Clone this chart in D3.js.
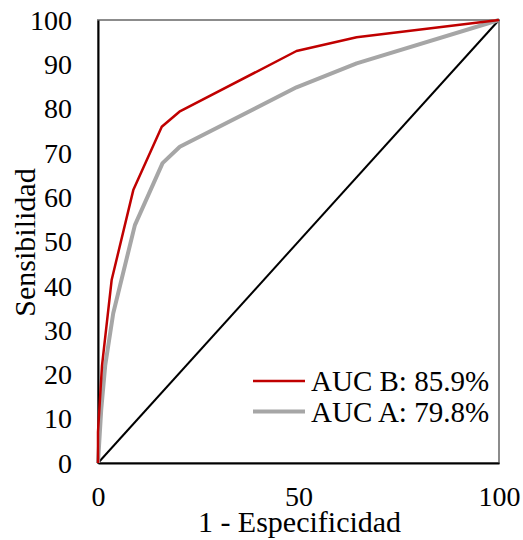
<!DOCTYPE html>
<meta charset="utf-8">
<script src="https://d3js.org/d3.v7.min.js"></script>
<style>
  body { margin: 0; background: #fff; }
</style>
<div id="chart"></div>
<script>
// ROC points (x = 1 - specificity, y = sensitivity)
var aucBx = [0, 0, 1, 3.4, 8.8, 15.9, 20.3, 49.5, 64.5, 100];
var aucBy = [0, 7, 22, 41.3, 61.6, 75.9, 79.3, 93, 96.1, 100];
var aucAx = [0, 0.8, 1.8, 3.8, 9.2, 16.1, 20.4, 49.5, 64.5, 100];
var aucAy = [0, 12, 22, 33.8, 53.7, 67.7, 71.4, 84.8, 90.2, 100];
var refX = [0, 100];
var refY = [0, 100];
var xTicks = [0, 50, 100];
var yTicks = [0, 10, 20, 30, 40, 50, 60, 70, 80, 90, 100];
var legendLabels = ["AUC B: 85.9%", "AUC A: 79.8%"];

var serif = "'Liberation Serif', 'Times New Roman', Times, 'DejaVu Serif', serif";

var margin = {top: 20, right: 24, bottom: 77, left: 98},
    width = 523 - margin.left - margin.right,
    height = 540 - margin.top - margin.bottom;

var svg = d3.select("#chart")
    .append("svg")
    .attr("width", 523)
    .attr("height", 540)
  .append("g")
    .attr("transform", "translate(" + margin.left + "," + margin.top + ")");

var x = d3.scaleLinear().domain([0, 100]).range([0, width]);
var y = d3.scaleLinear().domain([0, 100]).range([height, 0]);

// plot frame
svg.append("rect")
    .attr("width", width)
    .attr("height", height)
    .attr("fill", "none")
    .attr("stroke", "#8c8c8c")
    .attr("stroke-width", 2);

// axes
var xAxis = svg.append("g")
    .attr("transform", "translate(0," + height + ")")
    .call(d3.axisBottom(x).tickValues(xTicks).tickSize(0).tickPadding(23));
var yAxis = svg.append("g")
    .call(d3.axisLeft(y).tickValues(yTicks).tickSize(0).tickPadding(26));
[xAxis, yAxis].forEach(function(g) {
  g.attr("font-family", null);
  g.select(".domain").attr("stroke", "#000").attr("stroke-width", 2);
  g.selectAll("text")
      .style("font-family", serif)
      .style("font-size", "28px")
      .style("fill", "#000");
});
yAxis.selectAll("text").attr("dy", "0.33em");

function toPts(xs, ys) { return xs.map(function(v, i) { return [v, ys[i]]; }); }
var line = d3.line().x(function(d) { return x(d[0]); }).y(function(d) { return y(d[1]); });

svg.append("path").attr("d", line(toPts(refX, refY)))
    .attr("fill", "none").attr("stroke", "#000").attr("stroke-width", 2);
svg.append("path").attr("d", line(toPts(aucAx, aucAy)))
    .attr("fill", "none").attr("stroke", "#a6a6a6").attr("stroke-width", 4)
    .attr("stroke-linejoin", "round");
svg.append("path").attr("d", line(toPts(aucBx, aucBy)))
    .attr("fill", "none").attr("stroke", "#c00000").attr("stroke-width", 2.5)
    .attr("stroke-linejoin", "round");

// legend
var legend = svg.append("g").attr("transform", "translate(155,361)");
var legColors = ["#c00000", "#a6a6a6"], legWidths = [2.5, 4];
legendLabels.forEach(function(l, i) {
  var g = legend.append("g").attr("transform", "translate(0," + (i * 30.5) + ")");
  g.append("line").attr("x1", 0).attr("x2", 52).attr("y1", 0).attr("y2", 0)
      .attr("stroke", legColors[i]).attr("stroke-width", legWidths[i]);
  g.append("text").attr("x", 58).attr("y", 10)
      .style("font-family", serif).style("font-size", "29px").text(l);
});

// axis titles
svg.append("text")
    .attr("x", width / 2 + 1).attr("y", height + 69)
    .attr("text-anchor", "middle")
    .style("font-family", serif).style("font-size", "30px")
    .text("1 - Especificidad");
svg.append("text")
    .attr("transform", "translate(" + (35 - margin.left) + "," + (height / 2 + 1) + ")rotate(-90)")
    .attr("text-anchor", "middle")
    .style("font-family", serif).style("font-size", "30px")
    .text("Sensibilidad");
</script>
